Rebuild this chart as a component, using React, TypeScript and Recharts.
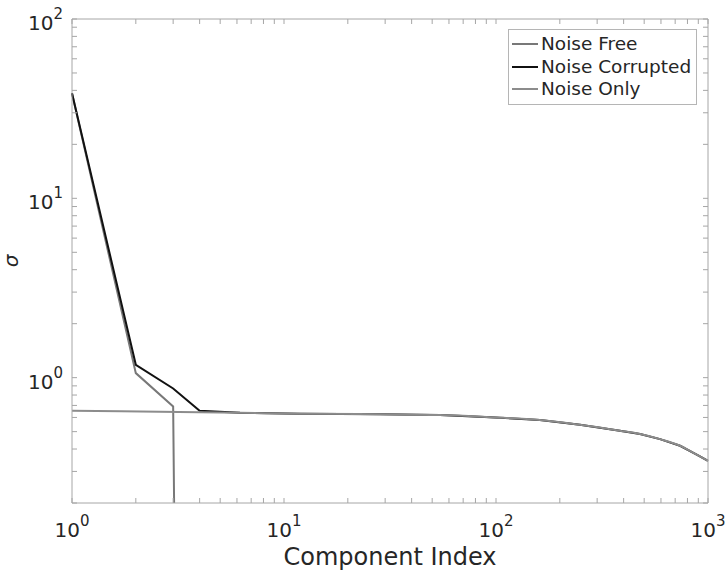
import React from 'react';
import { LineChart, Line, XAxis, YAxis, Legend, Label } from 'recharts';

// singular values (log-log)
const freeIdx = [1, 2, 3, 4, 1000];
const freeSigma = [38.5, 1.06, 0.69, 1e-15, 1e-15];

const corruptIdx = [1, 2, 3, 4, 6.2, 11.9, 28.4, 54.4, 93.7, 161, 249, 384, 478, 594, 738, 849, 916, 1000];
const corruptSigma = [38.5, 1.18, 0.87, 0.654, 0.637, 0.629, 0.625, 0.619, 0.602, 0.581, 0.546, 0.506, 0.485, 0.454, 0.417, 0.382, 0.364, 0.344];

const onlyIdx = [1, 3.2, 6.2, 11.9, 28.4, 54.4, 93.7, 161, 249, 384, 478, 594, 738, 849, 916, 1000];
const onlySigma = [0.654, 0.643, 0.637, 0.629, 0.625, 0.619, 0.602, 0.581, 0.546, 0.506, 0.485, 0.454, 0.417, 0.382, 0.364, 0.344];

const seriesNames = ['Noise Free', 'Noise Corrupted', 'Noise Only'];

const xTicks = [1, 2, 3, 4, 5, 6, 7, 8, 9, 10, 20, 30, 40, 50, 60, 70, 80, 90, 100, 200, 300, 400, 500, 600, 700, 800, 900, 1000];
const yTicks = [0.2, 0.3, 0.4, 0.5, 0.6, 0.7, 0.8, 0.9, 1, 2, 3, 4, 5, 6, 7, 8, 9, 10, 20, 30, 40, 50, 60, 70, 80, 90, 100];
const xMajor = [1, 10, 100, 1000];
const yMajor = [1, 10, 100];
const exponents: Record<number, string> = { 1: '0', 10: '1', 100: '2', 1000: '3' };

const toRows = (xs: number[], ys: number[]) => xs.map((x, i) => ({ x, y: ys[i] }));

const FONT = '"DejaVu Sans", sans-serif';
const AXIS = '#a6a6a6';
const TEXT = '#262626';

const XTick = (props: any) => {
  const { x, y, payload } = props;
  if (!xMajor.includes(payload.value)) return <g />;
  return (
    <text x={x} y={y + 34} textAnchor="middle" fill={TEXT} fontFamily={FONT} fontSize={20}>
      <tspan>10</tspan>
      <tspan dy={-11} fontSize={15}>{exponents[payload.value]}</tspan>
    </text>
  );
};

const YTick = (props: any) => {
  const { x, y, payload } = props;
  if (!yMajor.includes(payload.value)) return <g />;
  return (
    <text x={x} y={y + 11} textAnchor="end" fill={TEXT} fontFamily={FONT} fontSize={20}>
      <tspan>10</tspan>
      <tspan dy={-11} fontSize={15}>{exponents[payload.value]}</tspan>
    </text>
  );
};

const Blank = () => <g />;

const renderLegend = (props: any) => {
  const items = [...(props.payload || [])]
    .filter((e: any) => seriesNames.includes(e.value))
    .sort((a: any, b: any) => seriesNames.indexOf(a.value) - seriesNames.indexOf(b.value));
  return (
    <div
      style={{
        border: '1px solid #b5b5b5',
        background: '#fff',
        padding: '3px 5px 3px 3px',
        fontFamily: FONT,
        fontSize: 18.5,
        color: TEXT,
        lineHeight: '22.5px',
      }}
    >
      {items.map((e: any) => (
        <div key={e.value} style={{ display: 'flex', alignItems: 'center', whiteSpace: 'nowrap' }}>
          <svg width={26} height={4} style={{ marginRight: 3 }}>
            <line x1={0} y1={2} x2={26} y2={2} stroke={e.color} strokeWidth={2} />
          </svg>
          {e.value}
        </div>
      ))}
    </div>
  );
};

export default function App() {
  return (
    <div style={{ position: 'absolute', left: 0, top: 0, background: '#fff' }}>
      <LineChart width={727} height={572} margin={{ top: 18, right: 18, left: 0, bottom: 0 }}>
        <XAxis
          xAxisId="bottom"
          dataKey="x"
          type="number"
          scale="log"
          domain={[1, 1000]}
          ticks={xTicks}
          interval={0}
          height={69}
          tickSize={-5}
          tickMargin={5}
          tick={XTick}
          stroke={AXIS}
        >
          <Label
            value="Component Index"
            position="insideBottom"
            offset={7}
            style={{ fontFamily: FONT, fontSize: 24, fill: TEXT }}
          />
        </XAxis>
        <XAxis
          xAxisId="top"
          orientation="top"
          dataKey="x"
          type="number"
          scale="log"
          domain={[1, 1000]}
          allowDataOverflow
          ticks={xTicks}
          interval={0}
          height={1}
          tickSize={-5}
          tick={Blank}
          stroke={AXIS}
        />
        <YAxis
          yAxisId="left"
          type="number"
          scale="log"
          domain={[0.2, 100]}
          allowDataOverflow
          ticks={yTicks}
          interval={0}
          width={72}
          tickSize={-5}
          tickMargin={14}
          tick={YTick}
          stroke={AXIS}
        >
          <Label
            content={() => (
              <text
                transform="translate(18,261) rotate(-90)"
                textAnchor="middle"
                fontFamily={FONT}
                fontStyle="italic"
                fontSize={20}
                fill={TEXT}
              >
                σ
              </text>
            )}
          />
        </YAxis>
        <YAxis
          yAxisId="right"
          orientation="right"
          type="number"
          scale="log"
          domain={[0.2, 100]}
          allowDataOverflow
          ticks={yTicks}
          interval={0}
          width={1}
          tickSize={-5}
          tick={Blank}
          stroke={AXIS}
        />
        <Legend
          layout="vertical"
          align="center"
          verticalAlign="middle"
          wrapperStyle={{ top: 29, left: 508, width: 'auto' }}
          content={renderLegend}
        />
        {/* invisible series so the top/right frame axes get drawn */}
        <Line
          xAxisId="top"
          yAxisId="right"
          data={toRows(onlyIdx, onlySigma)}
          dataKey="y"
          name="frame"
          stroke="none"
          legendType="none"
          dot={false}
          activeDot={false}
          isAnimationActive={false}
        />
        <Line
          xAxisId="bottom"
          yAxisId="left"
          data={toRows(freeIdx, freeSigma)}
          dataKey="y"
          name="Noise Free"
          stroke="#787878"
          strokeWidth={2}
          dot={false}
          isAnimationActive={false}
        />
        <Line
          xAxisId="bottom"
          yAxisId="left"
          data={toRows(corruptIdx, corruptSigma)}
          dataKey="y"
          name="Noise Corrupted"
          stroke="#111111"
          strokeWidth={2}
          dot={false}
          isAnimationActive={false}
        />
        <Line
          xAxisId="bottom"
          yAxisId="left"
          type="monotone"
          data={toRows(onlyIdx, onlySigma)}
          dataKey="y"
          name="Noise Only"
          stroke="#8c8c8c"
          strokeWidth={2}
          dot={false}
          isAnimationActive={false}
        />
      </LineChart>
    </div>
  );
}
